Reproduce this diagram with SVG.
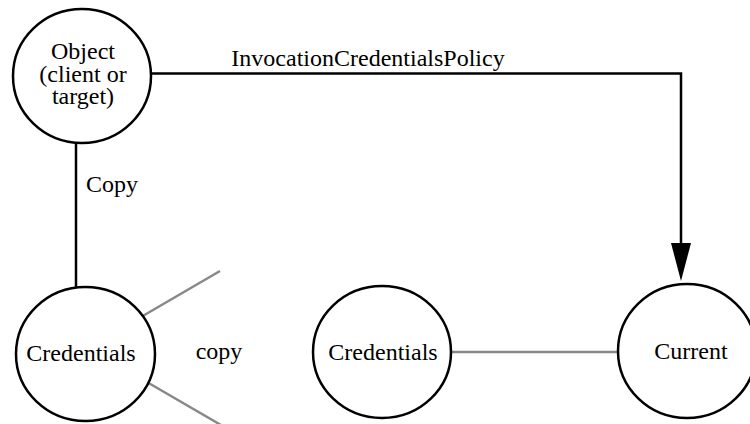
<svg xmlns="http://www.w3.org/2000/svg" width="750" height="424" viewBox="0 0 750 424">
<style>
.node{fill:#fff;stroke:#000;stroke-width:2.5}
text{font-family:'Liberation Serif','Times New Roman','DejaVu Serif',serif;font-size:24px;fill:#000;text-anchor:middle}
.blk{fill:none;stroke:#000;stroke-width:2.5}
.gry{fill:none;stroke:#888;stroke-width:2.5}
</style>
<rect width="750" height="424" fill="#fff"/>
<g id="connectors">
<line class="blk" x1="76" y1="143" x2="76" y2="287"/>
<path class="blk" d="M151,73.5 H681 V245"/>
<polygon points="671,243 691,243 681,281" fill="#000"/>
<line class="gry" x1="141" y1="317" x2="220" y2="271"/>
<line class="gry" x1="146" y1="381.5" x2="221" y2="425"/>
<line class="gry" x1="451" y1="352" x2="618" y2="352"/>
<text x="368" y="66" font-family="Liberation Serif, serif">InvocationCredentialsPolicy</text>
<text x="112" y="192" font-family="Liberation Serif, serif">Copy</text>
<text x="219" y="359" font-family="Liberation Serif, serif">copy</text>
</g>
<g id="object">
<ellipse class="node" cx="82" cy="76" rx="69" ry="67"/>
<text x="83" y="59" font-family="Liberation Serif, serif">Object</text>
<text x="83" y="81.5" font-family="Liberation Serif, serif">(client or</text>
<text x="83" y="104" font-family="Liberation Serif, serif">target)</text>
</g>
<g id="credentials1">
<ellipse class="node" cx="85.5" cy="354" rx="69.5" ry="67"/>
<text x="81" y="361" font-family="Liberation Serif, serif">Credentials</text>
</g>
<g id="credentials2">
<ellipse class="node" cx="382" cy="352" rx="69" ry="66"/>
<text x="383" y="360" font-family="Liberation Serif, serif">Credentials</text>
</g>
<g id="current">
<ellipse class="node" cx="687" cy="351" rx="69" ry="67"/>
<text x="691" y="359" font-family="Liberation Serif, serif">Current</text>
</g>
</svg>
